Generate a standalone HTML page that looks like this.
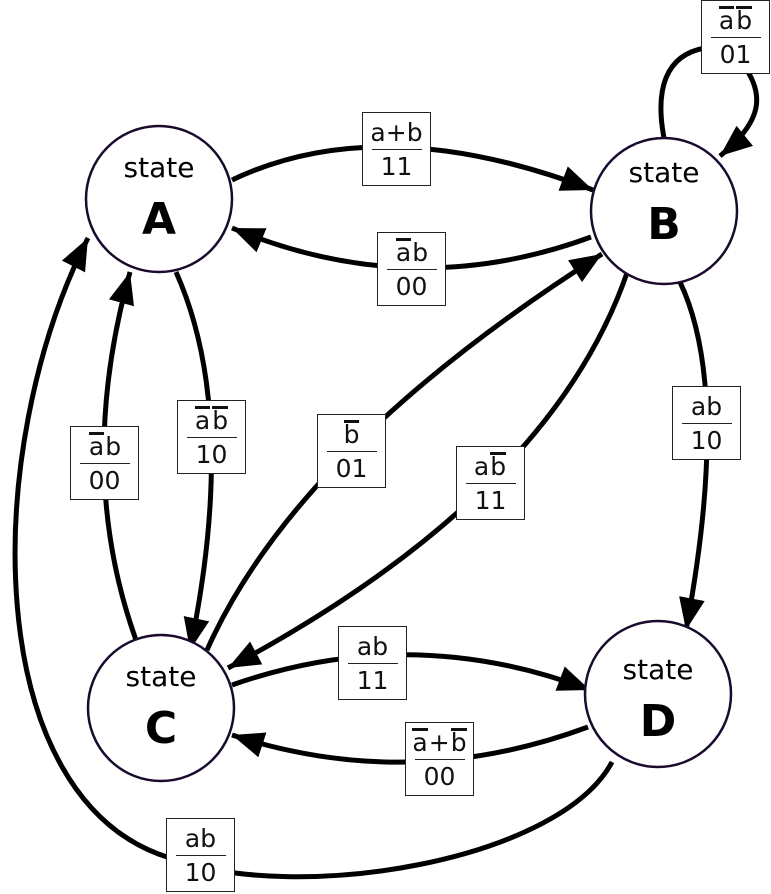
<!DOCTYPE html>
<html><head><meta charset="utf-8"><style>
body{margin:0;background:#fff;width:771px;height:894px;overflow:hidden;position:relative;font-family:"DejaVu Sans","Liberation Sans",sans-serif}
svg{position:absolute;left:0;top:0}
.b{position:absolute;width:67px;height:72px;background:#fff;border:1.5px solid #222;text-align:center;font-size:25px;line-height:30px;color:#111}
.b .n{margin-top:5px;height:30px}
.b .l{margin:1px auto 0;width:50px;border-top:1.5px solid #222}
.b .d{margin-top:2px}
.o{display:inline-block;border-top:3px solid #111;line-height:24px;margin:0 1px}
.st{position:absolute;width:146px;text-align:center;color:#000}
.st .s{font-size:28px;line-height:30px}
.st .L{font-size:44px;font-weight:bold;line-height:50px;margin-top:12px}
</style></head><body>
<svg width="771" height="894" viewBox="0 0 771 894">
<defs><marker id="a" markerUnits="userSpaceOnUse" markerWidth="34" markerHeight="30" refX="32" refY="15" orient="auto"><path d="M0,2 L32,15 L0,28 z" fill="#000"/></marker></defs>
<g fill="none" stroke="#000" stroke-width="5">
<path d="M664,138 C655,90 665,55 705,48"/>
</g>
<g fill="none" stroke="#000" stroke-width="5" marker-end="url(#a)">
<path d="M232,180 Q381,109 593,190"/>
<path d="M591,237 Q412,303 232,228"/>
<path d="M176,272 Q239,413 190,650"/>
<path d="M136,640 Q75,470 130,272"/>
<path d="M207,650 Q297,448 602,254"/>
<path d="M628,270 Q552,495 228,668"/>
<path d="M680,282 Q731,390 686,630"/>
<path d="M232,685 Q411,622 590,690"/>
<path d="M588,727 Q410,793 232,735"/>
<path d="M612,762 C560,860 300,905 170,858 C-20,800 -20,450 88,238"/>
<path d="M748,72 C765,100 758,125 720,156"/>
</g>
<g fill="#fff" stroke="#1a0a2e" stroke-width="2.5">
<circle cx="159" cy="199" r="73"/>
<circle cx="664" cy="211" r="73"/>
<circle cx="161" cy="708" r="73"/>
<circle cx="658" cy="694" r="73"/>
</g>
</svg>
<div class="st" style="left:86px;top:153px"><div class="s">state</div><div class="L">A</div></div>
<div class="st" style="left:591px;top:158px"><div class="s">state</div><div class="L">B</div></div>
<div class="st" style="left:88px;top:662px"><div class="s">state</div><div class="L">C</div></div>
<div class="st" style="left:585px;top:655px"><div class="s">state</div><div class="L">D</div></div>

<div class="b" style="left:362px;top:112px"><div class="n">a+b</div><div class="l"></div><div class="d">11</div></div>
<div class="b" style="left:377px;top:232px"><div class="n"><span class="o">a</span>b</div><div class="l"></div><div class="d">00</div></div>
<div class="b" style="left:701px;top:0px"><div class="n"><span class="o">a</span><span class="o">b</span></div><div class="l"></div><div class="d">01</div></div>
<div class="b" style="left:672px;top:386px"><div class="n">ab</div><div class="l"></div><div class="d">10</div></div>
<div class="b" style="left:317px;top:414px"><div class="n"><span class="o">b</span></div><div class="l"></div><div class="d">01</div></div>
<div class="b" style="left:456px;top:446px"><div class="n">a<span class="o">b</span></div><div class="l"></div><div class="d">11</div></div>
<div class="b" style="left:70px;top:426px"><div class="n"><span class="o">a</span>b</div><div class="l"></div><div class="d">00</div></div>
<div class="b" style="left:177px;top:400px"><div class="n"><span class="o">a</span><span class="o">b</span></div><div class="l"></div><div class="d">10</div></div>
<div class="b" style="left:338px;top:626px"><div class="n">ab</div><div class="l"></div><div class="d">11</div></div>
<div class="b" style="left:405px;top:722px"><div class="n"><span class="o">a</span>+<span class="o">b</span></div><div class="l"></div><div class="d">00</div></div>
<div class="b" style="left:166px;top:818px"><div class="n">ab</div><div class="l"></div><div class="d">10</div></div>
</body></html>
